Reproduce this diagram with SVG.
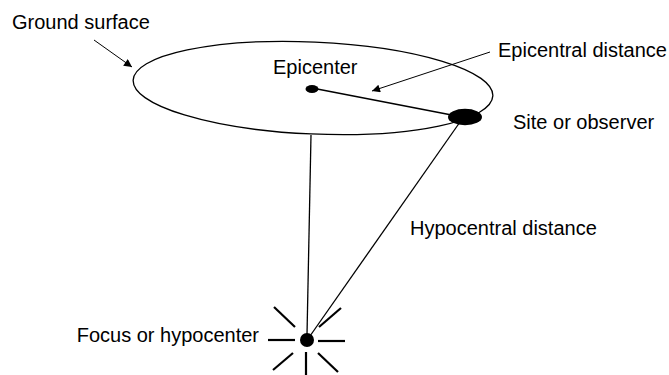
<svg xmlns="http://www.w3.org/2000/svg" width="669" height="375" viewBox="0 0 669 375">
<style>
text{font-family:"Liberation Sans",Arial,sans-serif;font-size:20px;fill:#000}
.ln{stroke:#000;fill:none}
</style>
<defs>
<marker id="ah" viewBox="0 0 10 10" refX="10" refY="5" markerWidth="12" markerHeight="8" markerUnits="userSpaceOnUse" orient="auto">
<path d="M0,0 L10,5 L0,10 Z" fill="#000"/>
</marker>
</defs>
<rect width="669" height="375" fill="#fff"/>
<g id="ground">
<ellipse cx="313" cy="88" rx="180" ry="46" transform="rotate(2.5 313 88)" class="ln" stroke-width="1.3"/>
<text x="12" y="29">Ground surface</text>
</g>
<g id="connectors">
<line x1="94" y1="40" x2="132" y2="67" class="ln" stroke-width="1" marker-end="url(#ah)"/>
<line x1="490" y1="52" x2="372" y2="91" class="ln" stroke-width="1" marker-end="url(#ah)"/>
<line x1="312" y1="88" x2="462" y2="117" class="ln" stroke-width="1.6"/>
<line x1="311" y1="135" x2="307" y2="335" class="ln" stroke-width="1.3"/>
<line x1="460" y1="122" x2="310" y2="336" class="ln" stroke-width="1.3"/>
</g>
<g id="epicenter">
<ellipse cx="312" cy="89" rx="6.5" ry="4" fill="#000"/>
<text x="273" y="74">Epicenter</text>
</g>
<g id="epicentral-distance">
<text x="498" y="57">Epicentral distance</text>
</g>
<g id="site">
<ellipse cx="465" cy="117" rx="17" ry="8.3" fill="#000"/>
<text x="513" y="129">Site or observer</text>
</g>
<g id="hypocentral-distance">
<text x="410" y="235">Hypocentral distance</text>
</g>
<g id="focus">
<circle cx="307" cy="340" r="7" fill="#000"/>
<g class="ln" stroke-width="2.2">
<line x1="268" y1="340" x2="295" y2="340"/>
<line x1="318" y1="341" x2="345" y2="341"/>
<line x1="274" y1="307" x2="295" y2="327"/>
<line x1="319" y1="327" x2="341" y2="308"/>
<line x1="273" y1="370" x2="293" y2="353"/>
<line x1="306" y1="352" x2="306" y2="375"/>
<line x1="318" y1="353" x2="338" y2="372"/>
</g>
<text x="259" y="342" text-anchor="end">Focus or hypocenter</text>
</g>
</svg>
